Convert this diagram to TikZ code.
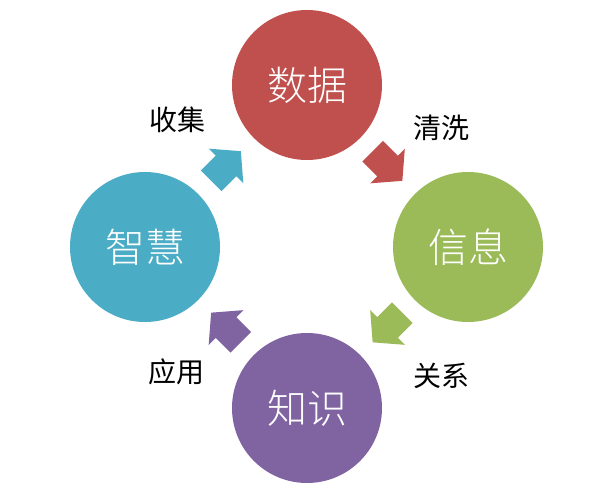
\documentclass[tikz,border=0pt]{standalone}
\usepackage{fontspec}
\setmainfont{Noto Sans CJK SC}
\newfontfamily\lightcjk{Noto Sans CJK SC Light}
\usetikzlibrary{calc}
\definecolor{datared}{HTML}{C0504D}
\definecolor{infogreen}{HTML}{9BBB59}
\definecolor{knowpurple}{HTML}{8064A2}
\definecolor{wisdomblue}{HTML}{4BACC6}
\tikzset{
  stage/.style={circle, minimum size=150pt, inner sep=0pt, text=white,
    font=\lightcjk\fontsize{40}{40}\selectfont},
  steplabel/.style={font=\fontsize{28}{28}\selectfont},
  blockarrow/.pic={
    \path[pic actions] (-21,-14.5) -- (0,-14.5) -- (0,-24.5) -- (21,0)
      -- (0,24.5) -- (0,14.5) -- (-21,14.5) -- cycle;
  }
}

\begin{document}
\begin{tikzpicture}[x=1pt,y=1pt]
  \useasboundingbox (0,0) rectangle (595,499);
  % the four stages
  \node (data) [stage, fill=datared] at (307,414) {数据};
  \node (info) [stage, fill=infogreen] at (468,252) {信息};
  \node (know) [stage, fill=knowpurple] at (307,91) {知识};
  \node (wisdom) [stage, fill=wisdomblue] at (145,252) {智慧};
  % arrows between them
  \path ($(wisdom)!0.5!(data)$) pic [fill=wisdomblue, rotate=45] {blockarrow};
  \path ($(data)!0.5!(info)$) pic [fill=datared, rotate=-45] {blockarrow};
  \path ($(info)!0.5!(know)$) pic [fill=infogreen, rotate=-135] {blockarrow};
  \path ($(know)!0.5!(wisdom)$) pic [fill=knowpurple, rotate=135] {blockarrow};
  % step labels
  \node (collect) [steplabel] at (177,379) {收集};
  \node (clean) [steplabel] at (441,371) {清洗};
  \node (relate) [steplabel] at (441,123) {关系};
  \node (apply) [steplabel] at (176,127) {应用};
\end{tikzpicture}
\end{document}
